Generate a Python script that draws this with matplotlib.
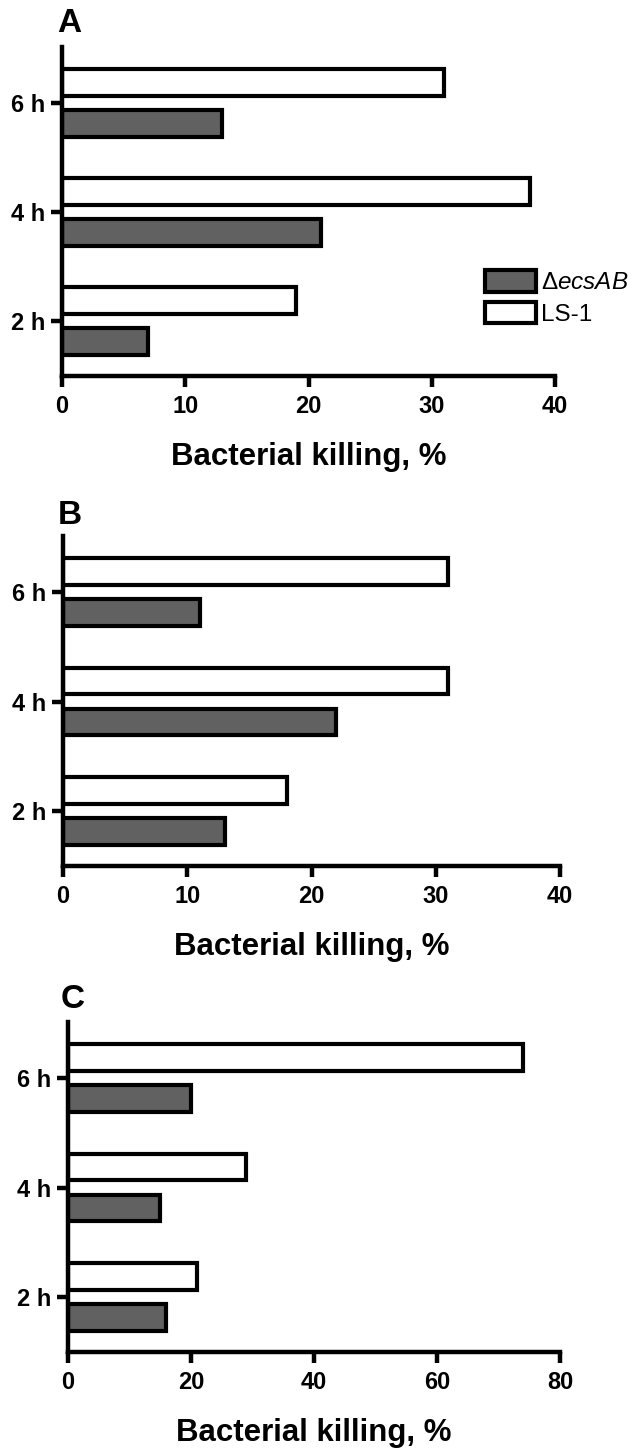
import matplotlib
matplotlib.use('Agg')
import matplotlib.pyplot as plt
import numpy as np

plt.rcParams['font.family'] = ['Liberation Sans', 'DejaVu Sans']
plt.rcParams['mathtext.fontset'] = 'custom'
plt.rcParams['mathtext.rm'] = 'Liberation Sans'
plt.rcParams['mathtext.it'] = 'Liberation Sans:italic'

# data (order: 2 h, 4 h, 6 h)
times = ['2 h', '4 h', '6 h']
ls1_a = [19, 38, 31]
ecs_a = [7, 21, 13]
ls1_b = [18, 31, 31]
ecs_b = [13, 22, 11]
ls1_c = [21, 29, 74]
ecs_c = [16, 15, 20]

W, H = 643, 1449
fig = plt.figure(figsize=(W / 100, H / 100), dpi=100)

dark = '#616161'
lw = 3.0

def make_panel(rect_px, letter, letter_xy, ls1, ecs, xmax, xticks):
    l, t, r, b = rect_px
    ax = fig.add_axes([l / W, 1 - b / H, (r - l) / W, (b - t) / H])
    y = np.arange(1, len(times) + 1)
    off = 0.188
    h = 0.245
    b1 = ax.barh(y - off, ecs, height=h, color=dark, edgecolor='black', linewidth=lw,
                 label=r'$\mathrm{\Delta}\mathit{ecsAB}$', zorder=2)
    b2 = ax.barh(y + off, ls1, height=h, color='white', edgecolor='black', linewidth=lw,
                 label='LS-1', zorder=2)
    ax.set_xlim(0, xmax)
    ax.set_ylim(0.495, 3.515)
    ax.set_xticks(xticks)
    ax.set_yticks(y)
    ax.set_yticklabels(times)
    for s in ['top', 'right']:
        ax.spines[s].set_visible(False)
    for s in ['left', 'bottom']:
        ax.spines[s].set_linewidth(3.2)
        ax.spines[s].set_capstyle('projecting')
    ax.tick_params(axis='both', width=3.2, length=8, direction='out', labelsize=17)
    ax.tick_params(axis='y', pad=4)
    ax.tick_params(axis='x', pad=6)
    for lab in ax.get_xticklabels() + ax.get_yticklabels():
        lab.set_fontweight('bold')
    ax.set_xlabel('Bacterial killing, %', fontsize=22.5, fontweight='bold', va='center')
    ax.xaxis.set_label_coords(0.5, -81 / (b - t))
    fig.text(letter_xy[0] / W, 1 - letter_xy[1] / H, letter, fontsize=24,
             fontweight='bold', ha='center', va='center')
    return ax, b1, b2

axA, hA1, hA2 = make_panel((62, 47, 555, 376), 'A', (69, 24), ls1_a, ecs_a, 40, [0, 10, 20, 30, 40])
axB, _, _ = make_panel((63, 536, 560, 866), 'B', (70, 515), ls1_b, ecs_b, 40, [0, 10, 20, 30, 40])
axC, _, _ = make_panel((68, 1022, 560, 1352), 'C', (73, 1000), ls1_c, ecs_c, 80, [0, 20, 40, 60, 80])

leg = axA.legend(handles=[hA1, hA2], loc='center left',
                 bbox_to_anchor=(485 / W, 1 - 298 / H), bbox_transform=fig.transFigure,
                 frameon=False, fontsize=17.5, handlelength=2.1, handleheight=1.0,
                 handletextpad=0.2, labelspacing=0.3, borderpad=0, borderaxespad=0)

fig.savefig('out.png', dpi=100)
